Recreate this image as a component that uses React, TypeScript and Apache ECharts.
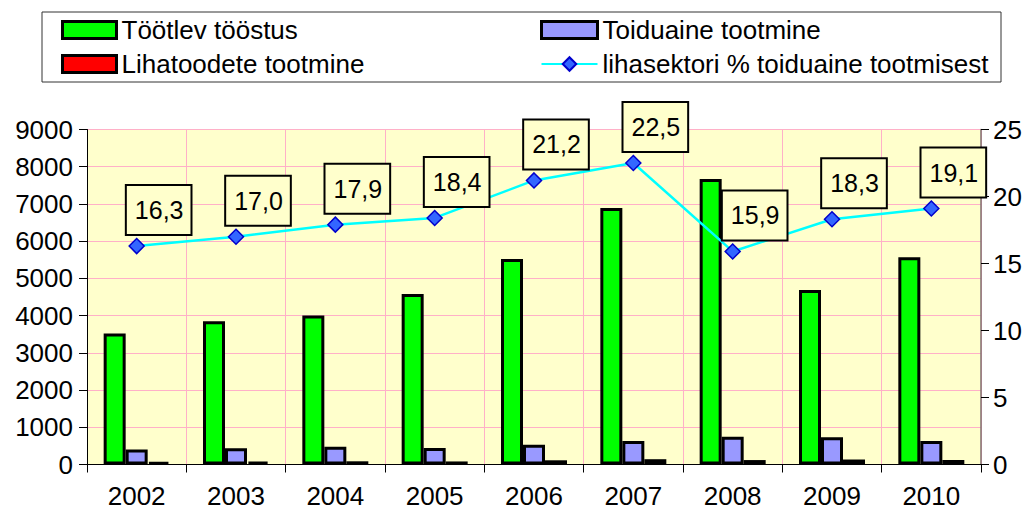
import React, { useEffect, useRef } from "react";
import * as echarts from "echarts";

const years = ["2002", "2003", "2004", "2005", "2006", "2007", "2008", "2009", "2010"];
const tootlevToostus = [3520, 3850, 4000, 4580, 5520, 6890, 7670, 4690, 5570];
const toiduaineTootmine = [405, 435, 478, 443, 532, 631, 747, 730, 631];
const lihatoodeteTootmine = [66, 74, 86, 82, 113, 142, 119, 134, 121];
const lihasektoriProtsent = [16.3, 17.0, 17.9, 18.4, 21.2, 22.5, 15.9, 18.3, 19.1];

const leftTicks = { min: 0, max: 9000, interval: 1000 };
const rightTicks = { min: 0, max: 25, interval: 5 };

const names = [
  "Töötlev tööstus",
  "Toiduaine tootmine",
  "Lihatoodete tootmine",
  "lihasektori % toiduaine tootmisest",
];

const FONT = "'Liberation Sans', Arial, sans-serif";

export default function App() {
  const ref = useRef<HTMLDivElement>(null);
  useEffect(() => {
    if (!ref.current) return;
    const chart = echarts.init(ref.current, null, { renderer: "svg" });
    const barBorder = { borderColor: "#000000", borderWidth: 3, borderType: "solid" };
    const legendText = { fontSize: 26, fontFamily: FONT, color: "#000", lineHeight: 26 };
    chart.setOption({
      animation: false,
      textStyle: { fontFamily: FONT },
      legend: [
        {
          orient: "vertical",
          left: 56,
          top: 12,
          itemWidth: 54,
          itemHeight: 17,
          itemGap: 8,
          textStyle: legendText,
          itemStyle: { borderColor: "#000", borderWidth: 3 },
          data: [
            { name: names[0], icon: "rect" },
            { name: names[2], icon: "rect" },
          ],
        },
        {
          orient: "vertical",
          left: 535,
          top: 12,
          itemWidth: 56,
          itemHeight: 17,
          itemGap: 8,
          textStyle: legendText,
          data: [
            { name: names[1], icon: "rect", itemStyle: { borderColor: "#000", borderWidth: 3 } },
            { name: names[3] },
          ],
        },
      ],
      graphic: [
        {
          type: "rect",
          shape: { x: 42, y: 12, width: 959, height: 70 },
          style: { fill: "none", stroke: "#333", lineWidth: 1 },
          silent: true,
        },
      ],
      grid: {
        left: 87,
        right: 51,
        top: 129.5,
        bottom: 49.5,
        show: true,
        backgroundColor: "#FFFFCC",
        borderWidth: 0,
        containLabel: false,
        outerBoundsMode: "none",
      },
      xAxis: {
        type: "category",
        data: years,
        boundaryGap: true,
        axisLine: { lineStyle: { color: "#000", width: 1 } },
        axisTick: { show: true, length: 8, lineStyle: { color: "#000" } },
        axisLabel: { fontSize: 26, color: "#000", margin: 18, fontFamily: FONT },
        splitLine: { show: true, lineStyle: { color: "#FFB0C8", width: 1 } },
      },
      yAxis: [
        {
          type: "value",
          min: leftTicks.min,
          max: leftTicks.max,
          interval: leftTicks.interval,
          axisLine: { show: true, lineStyle: { color: "#000", width: 1 } },
          axisTick: { show: true, length: 8, lineStyle: { color: "#000" } },
          axisLabel: {
            fontSize: 26,
            color: "#000",
            margin: 14,
            fontFamily: FONT,
            formatter: (v: number) => String(v),
          },
          splitLine: { show: true, lineStyle: { color: "#FFB0C8", width: 1 } },
        },
        {
          type: "value",
          min: rightTicks.min,
          max: rightTicks.max,
          interval: rightTicks.interval,
          position: "right",
          axisLine: { show: true, lineStyle: { color: "#7f7070", width: 1.5 } },
          axisTick: { show: true, length: 8, lineStyle: { color: "#000" } },
          axisLabel: {
            fontSize: 26,
            color: "#000",
            margin: 12,
            fontFamily: FONT,
            formatter: (v: number) => String(v),
          },
          splitLine: { show: false },
        },
      ],
      series: [
        {
          name: names[0],
          type: "bar",
          data: tootlevToostus,
          barWidth: 22,
          barGap: "0%",
          itemStyle: { color: "#00FF00", ...barBorder },
        },
        {
          name: names[1],
          type: "bar",
          data: toiduaineTootmine,
          barWidth: 22,
          barGap: "0%",
          itemStyle: { color: "#9999FF", ...barBorder },
        },
        {
          name: names[2],
          type: "bar",
          data: lihatoodeteTootmine,
          barWidth: 22,
          barGap: "0%",
          itemStyle: { color: "#FF0000", ...barBorder },
        },
        {
          name: names[3],
          type: "line",
          yAxisIndex: 1,
          data: lihasektoriProtsent,
          z: 5,
          symbol: "diamond",
          symbolSize: 15,
          lineStyle: { color: "#00FFFF", width: 2.5 },
          itemStyle: { color: "#3366FF", borderColor: "#0000CC", borderWidth: 1.5 },
          label: {
            show: true,
            position: "inside",
            offset: [22, -36],
            formatter: (p: any) => p.value.toFixed(1).replace(".", ","),
            fontSize: 25,
            fontFamily: FONT,
            color: "#000",
            backgroundColor: "#FFFFCC",
            borderColor: "#000",
            borderWidth: 2,
            padding: [12, 7, 11, 8],
            lineHeight: 25,
          },
        },
      ],
    });
    return () => chart.dispose();
  }, []);
  return (
    <div
      ref={ref}
      style={{ position: "absolute", left: 0, top: 0, width: 1032, height: 514 }}
    />
  );
}
